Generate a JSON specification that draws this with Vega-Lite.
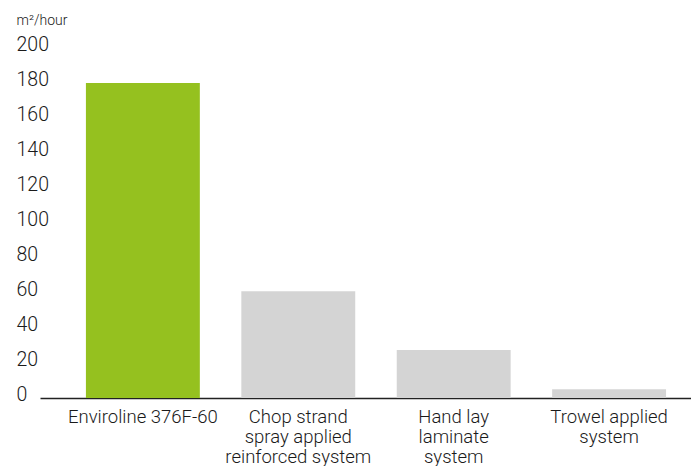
{
  "$schema": "https://vega.github.io/schema/vega-lite/v6.json",
  "autosize": {"type": "none"},
  "padding": {"left": 40, "top": 48, "right": 0, "bottom": 68},
  "width": 651,
  "height": 350,
  "background": "white",
  "config": {
    "view": {"stroke": null},
    "font": "Roboto"
  },
  "data": {
    "values": [
      {"system": "Enviroline 376F-60", "rate": 180},
      {"system": "Chop strand|spray applied|reinforced system", "rate": 61},
      {"system": "Hand lay|laminate|system", "rate": 27.5},
      {"system": "Trowel applied|system", "rate": 5}
    ]
  },
  "mark": {"type": "bar"},
  "encoding": {
    "x": {
      "field": "system",
      "type": "nominal",
      "sort": null,
      "scale": {"paddingInner": 0.267, "paddingOuter": 0.228, "align": 0.648},
      "axis": {
        "title": null,
        "labelAngle": 0,
        "labelExpr": "split(datum.label, '|')",
        "labelFont": "Roboto",
        "labelFontWeight": 300,
        "labelFontSize": 18.5,
        "labelColor": "#1a1a1a",
        "labelLineHeight": 20,
        "labelPadding": 9,
        "labelLimit": 300,
        "ticks": false,
        "tickSize": 0,
        "domainColor": "#222222",
        "domainWidth": 1.5,
        "domainCap": "butt"
      }
    },
    "y": {
      "field": "rate",
      "type": "quantitative",
      "scale": {"domain": [0, 200], "nice": false},
      "axis": {
        "title": "m²/hour",
        "titleAngle": 0,
        "titleAlign": "left",
        "titleBaseline": "middle",
        "titleX": -24,
        "titleY": -28,
        "titleFont": "Roboto",
        "titleFontSize": 14,
        "titleFontWeight": 300,
        "titleColor": "#1a1a1a",
        "values": [0, 20, 40, 60, 80, 100, 120, 140, 160, 180, 200],
        "labelAlign": "left",
        "labelBaseline": "middle",
        "labelPadding": 24,
        "labelOffset": -4,
        "labelFont": "Roboto",
        "labelFontWeight": 300,
        "labelFontSize": 19.5,
        "labelColor": "#1a1a1a",
        "ticks": false,
        "tickSize": 0,
        "domain": false,
        "grid": false
      }
    },
    "color": {
      "condition": {"test": "datum.system == 'Enviroline 376F-60'", "value": "#95c11f"},
      "value": "#d4d4d4"
    }
  }
}
